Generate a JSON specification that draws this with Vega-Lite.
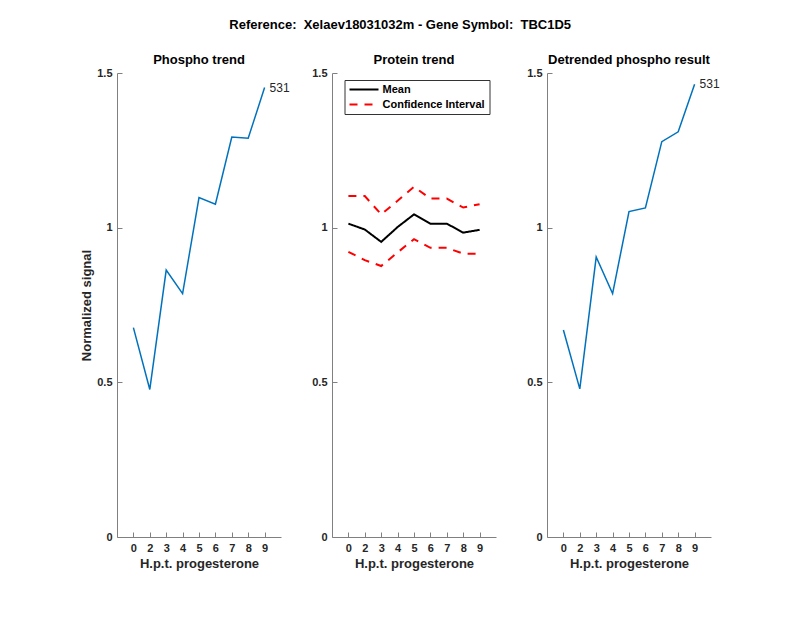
{
  "$schema": "https://vega.github.io/schema/vega-lite/v6.json",
  "padding": {"left": 80, "top": 19, "right": 5, "bottom": 5},
  "background": "white",
  "title": {"text": "Reference:\u00a0\u00a0Xelaev18031032m - Gene Symbol:\u00a0\u00a0TBC1D5", "anchor": "middle", "fontSize": 13, "fontWeight": "bold", "font": "Liberation Sans", "color": "#000000", "offset": 22},
  "config": {
    "font": "Liberation Sans",
    "view": {"stroke": null},
    "axis": {"grid": false, "domainColor": "#808080", "tickColor": "#808080", "domainWidth": 1, "tickWidth": 1, "tickSize": -5, "labelPadding": 10, "labelFont": "Liberation Sans", "labelFontWeight": "bold", "labelFontSize": 11, "labelColor": "#262626", "titleFont": "Liberation Sans", "titleFontWeight": "bold", "titleFontSize": 13, "titleColor": "#262626"},
    "axisY": {"titlePadding": 3},
    "axisX": {"titlePadding": 4},
    "title": {"font": "Liberation Sans", "fontSize": 13, "fontWeight": "bold", "color": "#000000"}
  },
  "datasets": {
    "phospho": [
      {"h": "0", "value": 0.677},
      {"h": "2", "value": 0.477},
      {"h": "3", "value": 0.863},
      {"h": "4", "value": 0.787},
      {"h": "5", "value": 1.097},
      {"h": "6", "value": 1.076},
      {"h": "7", "value": 1.293},
      {"h": "8", "value": 1.289},
      {"h": "9", "value": 1.453, "label": "531"}
    ],
    "protein": [
      {"h": "0", "series": "Mean", "bound": "mean", "value": 1.013},
      {"h": "2", "series": "Mean", "bound": "mean", "value": 0.994},
      {"h": "3", "series": "Mean", "bound": "mean", "value": 0.954},
      {"h": "4", "series": "Mean", "bound": "mean", "value": 1.002},
      {"h": "5", "series": "Mean", "bound": "mean", "value": 1.043},
      {"h": "6", "series": "Mean", "bound": "mean", "value": 1.013},
      {"h": "7", "series": "Mean", "bound": "mean", "value": 1.013},
      {"h": "8", "series": "Mean", "bound": "mean", "value": 0.984},
      {"h": "9", "series": "Mean", "bound": "mean", "value": 0.993},
      {"h": "0", "series": "Confidence Interval", "bound": "upper", "value": 1.102},
      {"h": "2", "series": "Confidence Interval", "bound": "upper", "value": 1.102},
      {"h": "3", "series": "Confidence Interval", "bound": "upper", "value": 1.043},
      {"h": "4", "series": "Confidence Interval", "bound": "upper", "value": 1.087},
      {"h": "5", "series": "Confidence Interval", "bound": "upper", "value": 1.132},
      {"h": "6", "series": "Confidence Interval", "bound": "upper", "value": 1.094},
      {"h": "7", "series": "Confidence Interval", "bound": "upper", "value": 1.094},
      {"h": "8", "series": "Confidence Interval", "bound": "upper", "value": 1.065},
      {"h": "9", "series": "Confidence Interval", "bound": "upper", "value": 1.076},
      {"h": "0", "series": "Confidence Interval", "bound": "lower", "value": 0.922},
      {"h": "2", "series": "Confidence Interval", "bound": "lower", "value": 0.895},
      {"h": "3", "series": "Confidence Interval", "bound": "lower", "value": 0.876},
      {"h": "4", "series": "Confidence Interval", "bound": "lower", "value": 0.92},
      {"h": "5", "series": "Confidence Interval", "bound": "lower", "value": 0.963},
      {"h": "6", "series": "Confidence Interval", "bound": "lower", "value": 0.935},
      {"h": "7", "series": "Confidence Interval", "bound": "lower", "value": 0.935},
      {"h": "8", "series": "Confidence Interval", "bound": "lower", "value": 0.916},
      {"h": "9", "series": "Confidence Interval", "bound": "lower", "value": 0.916}
    ],
    "detrended": [
      {"h": "0", "value": 0.669},
      {"h": "2", "value": 0.479},
      {"h": "3", "value": 0.905},
      {"h": "4", "value": 0.787},
      {"h": "5", "value": 1.052},
      {"h": "6", "value": 1.064},
      {"h": "7", "value": 1.278},
      {"h": "8", "value": 1.31},
      {"h": "9", "value": 1.464, "label": "531"}
    ]
  },
  "bounds": "flush",
  "spacing": 51,
  "hconcat": [
    {
      "width": 164,
      "height": 464,
      "title": {"text": "Phospho trend", "offset": 0},
      "data": {"name": "phospho"},
      "encoding": {
        "x": {"field": "h", "type": "ordinal", "scale": {"type": "point", "padding": 1, "domain": ["0","2","3","4","5","6","7","8","9"]}, "axis": {"title": "H.p.t. progesterone", "labelAngle": 0}},
        "y": {"field": "value", "type": "quantitative", "scale": {"domain": [0, 1.5], "nice": false, "zero": true}, "axis": {"title": "Normalized signal", "values": [0, 0.5, 1, 1.5], "format": "~g"}}
      },
      "layer": [
        {"mark": {"type": "line", "color": "#0072BD", "strokeWidth": 1.5}},
        {"transform": [{"filter": "datum.label"}], "mark": {"type": "text", "align": "left", "dx": 5, "fontSize": 12, "fontWeight": "normal", "color": "#262626"}, "encoding": {"text": {"field": "label"}}}
      ]
    },
    {
      "width": 164,
      "height": 464,
      "title": {"text": "Protein trend", "offset": 0},
      "data": {"name": "protein"},
      "encoding": {
        "x": {"field": "h", "type": "ordinal", "scale": {"type": "point", "padding": 1, "domain": ["0","2","3","4","5","6","7","8","9"]}, "axis": {"title": "H.p.t. progesterone", "labelAngle": 0}},
        "y": {"field": "value", "type": "quantitative", "scale": {"domain": [0, 1.5], "nice": false, "zero": true}, "axis": {"title": null, "values": [0, 0.5, 1, 1.5], "format": "~g"}}
      },
      "layer": [
        {
          "mark": {"type": "line", "strokeWidth": 2},
          "encoding": {
            "detail": {"field": "bound"},
            "color": {"field": "series", "type": "nominal", "scale": {"domain": ["Mean", "Confidence Interval"], "range": ["#000000", "#FF0000"]}, "legend": {"title": null, "orient": "none", "legendX": 227.5, "legendY": 7, "direction": "vertical", "symbolType": "stroke", "symbolSize": 841, "symbolStrokeWidth": 2, "clipHeight": 11, "labelFont": "Liberation Sans", "labelFontWeight": "bold", "labelFontSize": 11, "labelColor": "#000000", "strokeColor": "#333333", "fillColor": "white", "padding": 4, "rowPadding": 3, "labelOffset": 3}},
            "strokeDash": {"field": "series", "type": "nominal", "scale": {"domain": ["Mean", "Confidence Interval"], "range": [[1, 0], [8, 7]]}, "legend": {"title": null, "orient": "none", "legendX": 227.5, "legendY": 7, "direction": "vertical", "symbolType": "stroke", "symbolSize": 841, "symbolStrokeWidth": 2, "clipHeight": 11, "labelFont": "Liberation Sans", "labelFontWeight": "bold", "labelFontSize": 11, "labelColor": "#000000", "strokeColor": "#333333", "fillColor": "white", "padding": 4, "rowPadding": 3, "labelOffset": 3}}
          }
        }
      ]
    },
    {
      "width": 164,
      "height": 464,
      "title": {"text": "Detrended phospho result", "offset": 0},
      "data": {"name": "detrended"},
      "encoding": {
        "x": {"field": "h", "type": "ordinal", "scale": {"type": "point", "padding": 1, "domain": ["0","2","3","4","5","6","7","8","9"]}, "axis": {"title": "H.p.t. progesterone", "labelAngle": 0}},
        "y": {"field": "value", "type": "quantitative", "scale": {"domain": [0, 1.5], "nice": false, "zero": true}, "axis": {"title": null, "values": [0, 0.5, 1, 1.5], "format": "~g"}}
      },
      "layer": [
        {"mark": {"type": "line", "color": "#0072BD", "strokeWidth": 1.5}},
        {"transform": [{"filter": "datum.label"}], "mark": {"type": "text", "align": "left", "dx": 5, "fontSize": 12, "fontWeight": "normal", "color": "#262626"}, "encoding": {"text": {"field": "label"}}}
      ]
    }
  ]
}
